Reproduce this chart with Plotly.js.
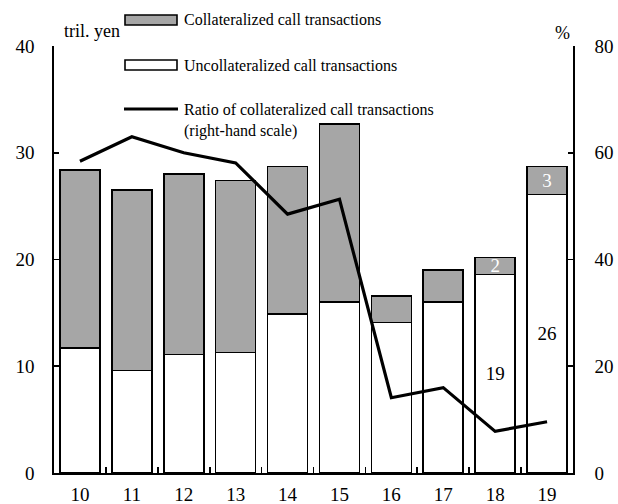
<!DOCTYPE html>
<html>
<head>
<meta charset="utf-8">
<script src="https://cdn.plot.ly/plotly-3.0.1.min.js"></script>
<style>html,body{margin:0;padding:0;background:#fff}#chart{width:618px;height:504px}</style>
</head>
<body>
<div id="chart"></div>
<script>
// Data
const years = ['10','11','12','13','14','15','16','17','18','19'];
const uncollateralized = [11.7, 9.6, 11.1, 11.3, 14.9, 16.0, 14.1, 16.0, 18.6, 26.1];
const collateralized = [16.7, 16.9, 16.9, 16.1, 13.8, 16.7, 2.5, 3.0, 1.6, 2.6];
const ratio = [58.4, 63.0, 60.0, 58.1, 48.5, 51.3, 14.1, 16.0, 7.8, 9.6];
const uncollLabels = ['', '', '', '', '', '', '', '', '19', '26'];
const collLabels = ['', '', '', '', '', '', '', '', '2', '3'];
const legendNames = ['Collateralized call transactions', 'Uncollateralized call transactions', 'Ratio of collateralized call transactions<br>(right-hand scale)'];
const leftTitle = 'tril. yen';
const rightTitle = '%';

const FONT = 'Liberation Serif';
const GRAY = '#a6a6a6';

const traces = [
  {
    type: 'bar', x: years, y: uncollateralized, name: legendNames[1],
    marker: {color: '#ffffff', line: {color: '#000', width: 1.6}},
    text: uncollLabels, textposition: 'inside', insidetextanchor: 'middle',
    constraintext: 'none', textangle: 0,
    textfont: {family: FONT, size: 19, color: '#000'},
    hoverinfo: 'none'
  },
  {
    type: 'bar', x: years, y: collateralized, name: legendNames[0],
    marker: {color: GRAY, line: {color: '#000', width: 1.6}},
    text: collLabels, textposition: 'inside', insidetextanchor: 'middle',
    constraintext: 'none', textangle: 0,
    textfont: {family: FONT, size: 19, color: '#fff'},
    hoverinfo: 'none'
  },
  {
    type: 'scatter', mode: 'lines', x: years, y: ratio, yaxis: 'y2', name: legendNames[2],
    line: {color: '#000', width: 3.2}, hoverinfo: 'none'
  }
];

// paper coordinate helpers for the hand-placed legend
const L = 54, R = 573, T = 46, B = 473;
const px = v => (v - L) / (R - L);
const py = v => (B - v) / (B - T);

const shapes = [
  {type: 'rect', xref: 'paper', yref: 'paper', x0: px(125), x1: px(177), y0: py(25), y1: py(15),
   fillcolor: GRAY, line: {color: '#000', width: 1.6}},
  {type: 'rect', xref: 'paper', yref: 'paper', x0: px(125), x1: px(177), y0: py(70), y1: py(60),
   fillcolor: '#fff', line: {color: '#000', width: 1.6}},
  {type: 'line', xref: 'paper', yref: 'paper', x0: px(124), x1: px(178), y0: py(109), y1: py(109),
   line: {color: '#000', width: 3.2}}
];

const annFont = {family: FONT, size: 16, color: '#000'};
const annotations = [
  {xref: 'paper', yref: 'paper', x: px(182), y: py(20), xanchor: 'left', yanchor: 'middle',
   text: legendNames[0], showarrow: false, font: annFont},
  {xref: 'paper', yref: 'paper', x: px(182), y: py(65), xanchor: 'left', yanchor: 'middle',
   text: legendNames[1], showarrow: false, font: annFont},
  {xref: 'paper', yref: 'paper', x: px(182), y: py(99), xanchor: 'left', yanchor: 'top',
   text: legendNames[2], showarrow: false, font: annFont, align: 'left'},
  {xref: 'paper', yref: 'paper', x: px(62), y: py(31), xanchor: 'left', yanchor: 'middle',
   text: leftTitle, showarrow: false, font: {family: FONT, size: 18, color: '#000'}},
  {xref: 'paper', yref: 'paper', x: px(562), y: py(33), xanchor: 'center', yanchor: 'middle',
   text: rightTitle, showarrow: false, font: {family: FONT, size: 18, color: '#000'}}
];

const tickFont = {family: FONT, size: 19, color: '#000'};
const layout = {
  width: 618, height: 504,
  margin: {l: L, r: 618 - R, t: T, b: 504 - B, pad: 0},
  paper_bgcolor: '#fff', plot_bgcolor: '#fff',
  barmode: 'stack', bargap: 0.23,
  showlegend: false,
  font: {family: FONT, color: '#000'},
  xaxis: {
    type: 'category', range: [-0.5, 9.5], showgrid: false, zeroline: false,
    showline: true, linecolor: '#000', linewidth: 1.6,
    ticks: 'inside', tickson: 'boundaries', ticklen: 6, tickwidth: 1.6, tickcolor: '#000',
    tickfont: tickFont, ticklabelstandoff: 4
  },
  yaxis: {
    range: [0, 40], dtick: 10, showgrid: false, zeroline: false,
    showline: true, linecolor: '#000', linewidth: 1.6,
    ticks: 'inside', ticklen: 5, tickwidth: 1.6, tickcolor: '#000',
    tickfont: tickFont, ticklabelstandoff: 14
  },
  yaxis2: {
    range: [0, 80], dtick: 20, overlaying: 'y', side: 'right', showgrid: false, zeroline: false,
    showline: true, linecolor: '#000', linewidth: 1.6,
    ticks: 'inside', ticklen: 5, tickwidth: 1.6, tickcolor: '#000',
    tickfont: tickFont, ticklabelstandoff: 16
  },
  shapes: shapes,
  annotations: annotations
};

Plotly.newPlot('chart', traces, layout, {staticPlot: true, displayModeBar: false});
</script>
</body>
</html>
